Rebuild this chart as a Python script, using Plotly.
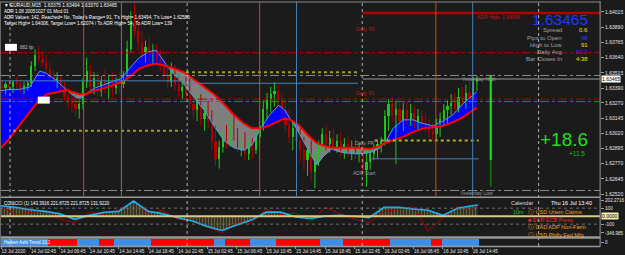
import plotly.graph_objects as go

# ---------------- DATA ----------------
# 30-minute sampled candles (bar index in 15-min units = 2*j + 0.5)
candle_open = [1.6341,1.6339,1.6342,1.6340,1.6344,1.6342,1.6338,1.6341,1.6343,1.6357,
 1.6366,1.6363,1.6360,1.6355,1.6348,1.6345,1.6347,1.6340,1.6332,1.6329,
 1.6326,1.6322,1.6326,1.6344,1.6353,1.6340,1.6347,1.6337,1.6345,1.6340,
 1.6344,1.6339,1.6345,1.6342,1.6350,1.6371,1.6393,1.6386,1.6376,1.6368,
 1.6373,1.6365,1.6370,1.6363,1.6358,1.6350,1.6344,1.6353,1.6342,1.6337,
 1.6340,1.6333,1.6326,1.6321,1.6329,1.6314,1.6319,1.6312,1.6296,1.6281,
 1.6291,1.6299,1.6296,1.6308,1.6301,1.6291,1.6296,1.6285,1.6291,1.6288,
 1.6299,1.6308,1.6322,1.6329,1.6334,1.6337,1.6329,1.6321,1.6309,1.6299,
 1.6306,1.6296,1.6288,1.6280,1.6288,1.6270,1.6280,1.6291,1.6301,1.6293,
 1.6298,1.6291,1.6296,1.6288,1.6293,1.6288,1.6291,1.6286,1.6290,1.6272,
 1.6278,1.6285,1.6290,1.6293,1.6296,1.6316,1.6326,1.6317,1.6322,1.6312,
 1.6321,1.6314,1.6319,1.6311,1.6316,1.6309,1.6308,1.6304,1.6301,1.6309,
 1.6314,1.6321,1.6324,1.6327,1.6322,1.6332,1.6329,1.6335,1.6330,1.6344]
candle_high = [1.6345,1.6344,1.6347,1.6345,1.6348,1.6346,1.6344,1.6345,1.6361,1.6371,
 1.6374,1.6370,1.6366,1.6360,1.6353,1.6352,1.6350,1.6344,1.6339,1.6335,
 1.6333,1.6329,1.6347,1.6364,1.6358,1.6352,1.6353,1.6349,1.6355,1.6350,
 1.6352,1.6348,1.6353,1.6353,1.6378,1.6402,1.6409,1.6398,1.6386,1.6378,
 1.6380,1.6375,1.6375,1.6371,1.6363,1.6357,1.6360,1.6358,1.6348,1.6345,
 1.6350,1.6347,1.6332,1.6335,1.6334,1.6324,1.6329,1.6321,1.6308,1.6296,
 1.6304,1.6309,1.6314,1.6316,1.6306,1.6301,1.6303,1.6296,1.6298,1.6304,
 1.6312,1.6329,1.6335,1.6340,1.6344,1.6342,1.6335,1.6330,1.6321,1.6312,
 1.6314,1.6306,1.6299,1.6294,1.6296,1.6288,1.6296,1.6306,1.6308,1.6304,
 1.6306,1.6301,1.6303,1.6298,1.6299,1.6296,1.6298,1.6294,1.6293,1.6288,
 1.6290,1.6293,1.6296,1.6299,1.6321,1.6330,1.6332,1.6329,1.6329,1.6327,
 1.6329,1.6326,1.6324,1.6322,1.6321,1.6319,1.6314,1.6311,1.6314,1.6319,
 1.6326,1.6329,1.6334,1.6335,1.6339,1.6340,1.6342,1.6345,1.6348,1.63494]
candle_low = [1.6335,1.6334,1.6337,1.6335,1.6339,1.6335,1.6334,1.6337,1.6340,1.6353,
 1.6360,1.6357,1.6352,1.6345,1.6342,1.6339,1.6337,1.6329,1.6322,1.6319,
 1.6316,1.6314,1.6322,1.6339,1.6335,1.6334,1.6332,1.6332,1.6335,1.6330,
 1.6332,1.6334,1.6335,1.6339,1.6347,1.6368,1.6381,1.6370,1.6363,1.6360,
 1.6361,1.6358,1.6360,1.6353,1.6345,1.6339,1.6340,1.6337,1.6332,1.6330,
 1.6329,1.6321,1.6314,1.6312,1.6308,1.6304,1.6306,1.6288,1.6275,1.6273,
 1.6286,1.6290,1.6291,1.6296,1.6286,1.6283,1.6280,1.6280,1.6281,1.6285,
 1.6294,1.6304,1.6314,1.6319,1.6324,1.6322,1.6314,1.6304,1.6294,1.6288,
 1.6291,1.6278,1.6272,1.6267,1.6263,1.6257,1.6275,1.6286,1.6288,1.6286,
 1.6288,1.6286,1.6283,1.6281,1.6283,1.6280,1.6281,1.6278,1.6267,1.6258,
 1.6272,1.6280,1.6281,1.6286,1.6292,1.6304,1.6311,1.6277,1.6306,1.6304,
 1.6309,1.6308,1.6306,1.6304,1.6306,1.6303,1.6298,1.6296,1.6296,1.6299,
 1.6308,1.6309,1.6317,1.6319,1.6319,1.6324,1.6322,1.6326,1.6329,1.6337]
candle_close = [1.6339,1.6342,1.6340,1.6344,1.6342,1.6338,1.6341,1.6343,1.6357,1.6366,
 1.6363,1.6360,1.6355,1.6348,1.6345,1.6347,1.6340,1.6332,1.6329,1.6326,
 1.6322,1.6326,1.6344,1.6353,1.6340,1.6347,1.6337,1.6345,1.6340,1.6344,
 1.6339,1.6345,1.6342,1.6350,1.6371,1.6393,1.6386,1.6376,1.6368,1.6373,
 1.6365,1.6370,1.6363,1.6358,1.6350,1.6344,1.6353,1.6342,1.6337,1.6340,
 1.6333,1.6326,1.6321,1.6329,1.6314,1.6319,1.6312,1.6296,1.6281,1.6291,
 1.6299,1.6296,1.6308,1.6301,1.6291,1.6296,1.6285,1.6291,1.6288,1.6299,
 1.6308,1.6322,1.6329,1.6334,1.6337,1.6329,1.6321,1.6309,1.6299,1.6306,
 1.6296,1.6288,1.6280,1.6288,1.6270,1.6280,1.6291,1.6301,1.6293,1.6298,
 1.6291,1.6296,1.6288,1.6293,1.6288,1.6291,1.6286,1.6290,1.6272,1.6278,
 1.6285,1.6290,1.6293,1.6296,1.6316,1.6326,1.6317,1.6322,1.6312,1.6321,
 1.6314,1.6319,1.6311,1.6316,1.6309,1.6308,1.6304,1.6301,1.6309,1.6314,
 1.6321,1.6324,1.6327,1.6322,1.6332,1.6329,1.6335,1.6330,1.6344,1.63465]

# moving averages (bar index in 15-min units)
ma_bar = [0,4.9,10.3,15.7,18.4,21.1,24.9,30.3,34.6,36.2,40.0,42.7,45.9,50.8,56.2,61.6,65.4,
 69.7,75.1,80.5,84.3,87.6,90.3,94.1,99.5,104.9,110.3,115.7,121.1,126.5,131.9,136.2,141.1,
 145.4,150.8,154.1,157.3,161.6,167.0,171.4,175.1,179.5,185.9,194.1,200.5,204.9,208.6,213.0,
 218.4,223.8,229.2,234.6,240.0,245.4,250.8,254.6,258.4]
ma_slow = [1.6290,1.6298,1.6309,1.6320,1.6325,1.6330,1.6334,1.6336,1.6337,1.6337,
 1.6335,1.6334,1.6334,1.6337,1.6339,1.6342,1.6344,1.6348,1.6355,1.6358,
 1.6359,1.6358,1.6357,1.6355,1.6352,1.6346,1.6340,1.6334,1.6326,1.6317,
 1.6310,1.6306,1.6306,1.6308,1.6312,1.6314,1.6313,1.6309,1.6300,1.6294,
 1.6292,1.6290,1.6290,1.6290,1.6289,1.6291,1.6294,1.6296,1.6299,1.6303,
 1.6306,1.6307,1.6308,1.6311,1.6315,1.6319,1.6323]
ma_fast = [1.6337,1.6338,1.6338,1.6340,1.6347,1.6353,1.6351,1.6345,1.6339,1.6337,
 1.6332,1.6330,1.6334,1.6339,1.6342,1.6345,1.6347,1.6355,1.6364,1.6369,
 1.6370,1.6363,1.6357,1.6350,1.6342,1.6331,1.6321,1.6308,1.6296,1.6290,
 1.6288,1.6292,1.6306,1.6316,1.6325,1.6321,1.6313,1.6303,1.6288,1.6276,
 1.6283,1.6289,1.6286,1.6285,1.6286,1.6289,1.6294,1.6306,1.6313,1.6313,
 1.6310,1.6308,1.6312,1.6317,1.6326,1.6331,1.6336]

# CCI sub-window
cci_bar = [0,8,16,24,32,40,48,56,64,72,80,88,96,104,112,120,128,136,144,152,160,168,
 176,184,192,200,208,216,224,232,240,248,256,259]
cci_fast = [130,110,80,60,30,-40,10,50,60,190,60,30,-20,-60,-130,-180,-110,-50,50,50,
 -10,-30,0,10,-5,-20,110,110,90,75,10,100,130,140]
cci_slow = [120,30,40,70,-40,-80,50,20,80,180,40,70,-40,-60,-140,-210,-70,-90,90,20,
 40,-70,110,30,-40,-80,60,80,120,-190,-20,120,90,150]

# Heiken Ashi trend state per 30-min candle (B = up/blue, R = down/red)
heiken_state = ("BBBBBBBBBBBBBRRRRRRRRBBBBBBRRRRBBBBBBBBBBRRRRRRRRRRRRRRRRRBBBRRRRRRRB"
                "BBBBBBRRRRRRRRRRRRBBBBBBRRRRRRRRRRRRRBBBBBBBBBBBRRRBBBBBBBBBB")

# levels
adr_high = 1.64006
daily_r2 = 1.6368
today_high = 1.63494
yest_high = 1.63465
daily_r1 = 1.6330
daily_s_green = 1.6328
daily_pp = 1.6296
prev_pp = 1.6352
prev_pp2 = 1.6304
adr_start = 1.6281
prev_adr1 = 1.6345
prev_adr2 = 1.6343
yest_low = 1.6255
today_low = 1.62586
last_price = 1.63465

y_ticks = [1.64015,1.63890,1.63765,1.63640,1.63515,1.63390,1.63270,1.63145,1.63020,
           1.62895,1.62770,1.62645,1.62520]
cci_ticks = [202.2716, 100, -100, -210]
cci_tick_text = ["202.2716", "100", "-100", "-346.985"]
x_tick_bars = [0,16,32,48,64,80,96,112,128,144,160,176,192,208,224,240,256]
x_tick_text = ["13 Jul 2020","14 Jul 02:45","14 Jul 06:45","14 Jul 10:45","14 Jul 14:45",
               "14 Jul 18:45","14 Jul 22:45","15 Jul 02:45","15 Jul 06:45","15 Jul 10:45",
               "15 Jul 14:45","15 Jul 18:45","15 Jul 22:45","16 Jul 02:45","16 Jul 06:45",
               "16 Jul 10:45","16 Jul 14:45"]
day_sep_bars = [4.9, 101.1, 196.2, 292.0]
london_bars = [44.9, 140.5, 236.2]
ny_bars = [65.4, 160.5, 256.2]

# ---------------- STYLE ----------------
BG = "#1b1b1b"
FONT = "Liberation Sans"
W, H = 625, 255
PX_PER_BAR = 1.85
PLOT_R = 603
X0 = -1 / PX_PER_BAR
X1 = (PLOT_R - 1) / PX_PER_BAR


def py(px):
    return 1 - px / H


def px_x(px):
    return px / W


fig = go.Figure()

n = len(candle_close)
cx = [2 * j + 0.5 for j in range(n)]

# MA fill between fast & slow (blue when fast above, grey when below)
diff = [f - s for f, s in zip(ma_fast, ma_slow)]
cuts = [0] + [i for i, d in enumerate(diff) if abs(d) < 1e-9 and 0 < i < len(diff) - 1] + [len(diff) - 1]
for a, b in zip(cuts[:-1], cuts[1:]):
    seg = diff[a:b + 1]
    col = "#0000ff" if sum(seg) > 0 else "#7f7f7f"
    xs = ma_bar[a:b + 1] + ma_bar[a:b + 1][::-1]
    ys = ma_fast[a:b + 1] + ma_slow[a:b + 1][::-1]
    fig.add_trace(go.Scatter(x=xs, y=ys, fill="toself", fillcolor=col, mode="none",
                             hoverinfo="skip", showlegend=False, xaxis="x", yaxis="y"))

# candles
for bull, color in ((True, "#1fc51f"), (False, "#b00000")):
    idx = [j for j in range(n) if (candle_close[j] >= candle_open[j]) == bull]
    wx, wy = [], []
    for j in idx:
        wx += [cx[j], cx[j], None]
        wy += [candle_low[j], candle_high[j], None]
    fig.add_trace(go.Scatter(x=wx, y=wy, mode="lines", line=dict(color=color, width=1),
                             hoverinfo="skip", showlegend=False, xaxis="x", yaxis="y"))
    fig.add_trace(go.Bar(x=[cx[j] for j in idx],
                         y=[max(abs(candle_close[j] - candle_open[j]), 0.00003) for j in idx],
                         base=[min(candle_close[j], candle_open[j]) for j in idx],
                         width=1.2, marker=dict(color=color, line=dict(width=0)),
                         hoverinfo="skip", showlegend=False, xaxis="x", yaxis="y"))

fig.add_trace(go.Scatter(x=ma_bar, y=ma_fast, mode="lines", line=dict(color="#4aa3e8", width=1),
                         hoverinfo="skip", showlegend=False, xaxis="x", yaxis="y"))
fig.add_trace(go.Scatter(x=ma_bar, y=ma_slow, mode="lines", line=dict(color="#ff0000", width=2),
                         hoverinfo="skip", showlegend=False, xaxis="x", yaxis="y"))

# CCI window
fig.add_trace(go.Scatter(x=cci_bar, y=cci_fast, mode="none", fill="tozeroy",
                         fillpattern=dict(shape="|", size=3, solidity=0.55, fgcolor="#b0a65c",
                                          bgcolor="rgba(0,0,0,0)"),
                         hoverinfo="skip", showlegend=False, xaxis="x2", yaxis="y2"))
fig.add_trace(go.Scatter(x=cci_bar, y=cci_slow, mode="lines", line=dict(color="#b00000", width=1),
                         hoverinfo="skip", showlegend=False, xaxis="x2", yaxis="y2"))
fig.add_trace(go.Scatter(x=cci_bar, y=cci_fast, mode="lines", line=dict(color="#18b4f0", width=1.6),
                         hoverinfo="skip", showlegend=False, xaxis="x2", yaxis="y2"))

# Heiken Ashi strip
fig.add_trace(go.Bar(x=cx, y=[1] * n, base=0, width=2.02,
                     marker=dict(color=["#3d8fe6" if s == "B" else "#ff0000" for s in heiken_state[:n]],
                                 line=dict(width=0)),
                     hoverinfo="skip", showlegend=False, xaxis="x3", yaxis="y3"))

shapes = []


def hline(y, x0, x1, color, width=1, dash="solid"):
    shapes.append(dict(type="line", xref="x", yref="y", x0=x0, x1=x1, y0=y, y1=y,
                       line=dict(color=color, width=width, dash=dash)))


XL, XR = X0, X1
hline(adr_high, 196.5, XR, "#b40000", 2.5)
hline(daily_r2, XL, XR, "#c00000", 1, "dashdot")
hline(today_high, XL, XR, "#8a8a8a", 1, "dashdot")
hline(yest_high, 196.5, XR, "#9a9a9a", 1)
hline(prev_pp, 100.5, 194, "#a0a020", 2, "dot")
hline(prev_pp2, 6.5, 98.5, "#a0a020", 2, "dot")
hline(daily_pp, 203, 259.5, "#b0b020", 2, "dot")
hline(prev_adr1, XL, 98.5, "#4682b4", 1)
hline(prev_adr2, 98.5, 194, "#4682b4", 1)
hline(adr_start, 200.5, 259.5, "#4682b4", 1)
hline(daily_r1, XL, XR, "#c00000", 1, "dashdot")
hline(daily_s_green, XL, XR, "#00a000", 1, "dashdot")
hline(yest_low, XL, XR, "#8a8a8a", 1, "dashdot")

for b in day_sep_bars:
    shapes.append(dict(type="line", xref="x", yref="paper", x0=b, x1=b, y0=py(246), y1=py(1),
                       line=dict(color="#b4b4b4", width=1, dash="dot")))
for b in london_bars:
    shapes.append(dict(type="line", xref="x", yref="paper", x0=b, x1=b, y0=py(196), y1=py(1),
                       line=dict(color="#d2461e", width=1)))
for b in ny_bars:
    shapes.append(dict(type="line", xref="x", yref="paper", x0=b, x1=b, y0=py(196), y1=py(1),
                       line=dict(color="#4682b4", width=1)))

# ADR bar (today range)
shapes.append(dict(type="line", xref="x", yref="y", x0=266, x1=266, y0=1.6280, y1=today_high,
                   line=dict(color="#1ee61e", width=2)))
shapes.append(dict(type="line", xref="x", yref="y", x0=266, x1=266, y0=today_low, y1=1.6280,
                   line=dict(color="#0a6e0a", width=2)))

# CCI levels
for lv, col, w, d in ((100, "#6e6e6e", 1, "dot"), (-100, "#6e6e6e", 1, "dot"), (0, "#d8c98a", 2, "solid")):
    shapes.append(dict(type="line", xref="x2", yref="y2", x0=X0, x1=X1, y0=lv, y1=lv,
                       line=dict(color=col, width=w, dash=d)))

# frames / separators
for yy, col, w in ((1, "#8c8c8c", 1), (197, "#9a9a9a", 1.5), (237.5, "#9a9a9a", 2.5), (246.5, "#9a9a9a", 1.5)):
    shapes.append(dict(type="line", xref="paper", yref="paper", x0=0, x1=px_x(PLOT_R), y0=py(yy), y1=py(yy),
                       line=dict(color=col, width=w)))
shapes.append(dict(type="line", xref="paper", yref="paper", x0=px_x(PLOT_R), x1=px_x(PLOT_R),
                   y0=py(247), y1=py(0), line=dict(color="#9a9a9a", width=1)))
shapes.append(dict(type="line", xref="paper", yref="paper", x0=px_x(0.5), x1=px_x(0.5),
                   y0=py(247), y1=py(0), line=dict(color="#6a6a6a", width=1)))
# small white info boxes
shapes.append(dict(type="rect", xref="paper", yref="paper", x0=px_x(5), x1=px_x(17), y0=py(50), y1=py(43),
                   fillcolor="#ffffff", line=dict(width=0)))
shapes.append(dict(type="rect", xref="paper", yref="paper", x0=px_x(38), x1=px_x(50), y0=py(103), y1=py(96),
                   fillcolor="#ffffff", line=dict(width=0)))

ann = []


def txt(x, y, s, color="#e6e6e6", size=5, anchor="left", family=FONT):
    ann.append(dict(xref="paper", yref="paper", x=px_x(x), y=py(y), text=s, showarrow=False,
                    xanchor=anchor, yanchor="middle", font=dict(color=color, size=size, family=family)))


txt(2, 5, "▼ EURAUD,M15  1.63375 1.63494 1.63370 1.63465", "#ffffff", 4.8)
txt(2, 11, "ADR 1.08 20051027 01 Mod 01", "#ffffff", 4.6)
txt(2, 17, "ADR Values: 142, Reached= No, Today's Range= 91, T's High= 1.63494, T's Low= 1.62586", "#ffffff", 4.6)
txt(2, 23, "Target High= 1.64006, Target Low= 1.62074 / To ADR High= 54, To ADR Low= 139", "#ffffff", 4.6)
txt(18, 47, "882 tip", "#bfbfbf", 4.5)

txt(356, 28, "Daily R2", "#d01010", 5)
txt(356, 92, "Daily R1", "#d01010", 5)
txt(355, 143, "Daily PP", "#9a9a9a", 5)
txt(353, 173, "ADR Start", "#9a9a9a", 5)
txt(477, 16, "ADR High: 1.64006", "#d01010", 5)
txt(462, 78, "Yesterday High", "#9a9a9a", 5)
txt(460, 193, "Yesterday Low", "#9a9a9a", 5)

txt(593, 18.5, "1.63465", "#1a3cff", 15.5, "right")
rows = [("Spread", "0.6", "#e6e600"), ("Pips to Open", "68", "#1a3cff"), ("High to Low", "91", "#e6e600"),
        ("Daily Avg", "97.2", "#1a3cff"), ("Bar Closes In", "4:38", "#e6e600")]
for k, (lab, val, vc) in enumerate(rows):
    yy = 29.5 + k * 7.2
    txt(567, yy, lab, "#a0a0a0", 6, "right")
    txt(593, yy, val, vc, 6, "right")
txt(593, 139, "+18.6", "#22dd22", 19, "right")
txt(590, 153, "+11.5", "#22bb22", 6.5, "right")

# CCI window texts
txt(2, 203, "CCI&CCI (1) 143.3916 221.8725 221.8725 131.9220", "#ffffff", 4.5)
txt(511, 203, "Calendar", "#dcdcdc", 5.5)
txt(552, 203, "Thu 16 Jul 13:40", "#ffffff", 5.5)
txt(513, 212, "10m", "#22cc22", 5.5)
txt(529, 212, "ⓘ USD Unem Claims", "#f0a020", 5.5)
txt(529, 219.5, "■ EUR ECB Press", "#ff2020", 5.5)
txt(529, 227, "ⓘ CAD ADP Non-Farm", "#f0a020", 5.5)
txt(529, 234.5, "ⓘ USD Philly Fed Mfg", "#f0a020", 5.5)
txt(2, 242, "Heiken Ashi Trend 10.1", "#ffffff", 4.5)

# price label box + cci value box
ann.append(dict(xref="paper", yref="y", x=px_x(604), y=last_price, text="1.63465", showarrow=False,
                xanchor="left", yanchor="middle", bgcolor="#ffffff", borderpad=0,
                font=dict(color="#000000", size=5, family=FONT)))
ann.append(dict(xref="paper", yref="y2", x=px_x(604), y=0, text="0.0000", showarrow=False,
                xanchor="left", yanchor="middle", bgcolor="#f3eeb4", borderpad=0,
                font=dict(color="#000000", size=5, family=FONT)))

axis_common = dict(showgrid=False, zeroline=False, showline=False, fixedrange=True)
fig.update_layout(
    width=W, height=H, margin=dict(l=0, r=0, t=0, b=0),
    paper_bgcolor=BG, plot_bgcolor=BG, bargap=0, barmode="overlay",
    showlegend=False, shapes=shapes, annotations=ann,
    xaxis=dict(domain=[0, px_x(PLOT_R)], range=[X0, X1], showticklabels=False, ticks="",
               anchor="y", **axis_common),
    xaxis2=dict(domain=[0, px_x(PLOT_R)], range=[X0, X1], showticklabels=False, ticks="",
                anchor="y2", matches="x", **axis_common),
    xaxis3=dict(domain=[0, px_x(PLOT_R)], range=[X0, X1], anchor="y3", matches="x",
                tickvals=x_tick_bars, ticktext=x_tick_text, ticks="outside", ticklen=2,
                tickangle=0, tickcolor="#9a9a9a", ticklabelposition="outside right",
                tickfont=dict(color="#e6e6e6", size=4.6, family=FONT), **axis_common),
    yaxis=dict(domain=[py(197), py(0)], range=[1.62495, 1.64105], side="right", anchor="x",
               tickvals=y_ticks, ticktext=[f"{v:.5f}" for v in y_ticks], ticks="outside",
               ticklen=3, tickcolor="#9a9a9a",
               tickfont=dict(color="#e6e6e6", size=5, family=FONT), **axis_common),
    yaxis2=dict(domain=[py(236), py(198)], range=[-250, 225], side="right", anchor="x2",
                tickvals=cci_ticks, ticktext=cci_tick_text,
                ticks="outside", ticklen=3, tickcolor="#9a9a9a",
                tickfont=dict(color="#e6e6e6", size=4.6, family=FONT), **axis_common),
    yaxis3=dict(domain=[py(246), py(239)], range=[0, 1], side="right", anchor="x3",
                tickvals=[0.5], ticktext=["0"], ticks="outside", ticklen=3, tickcolor="#9a9a9a",
                tickfont=dict(color="#e6e6e6", size=4.6, family=FONT), **axis_common),
)

fig.write_html("out.html")
